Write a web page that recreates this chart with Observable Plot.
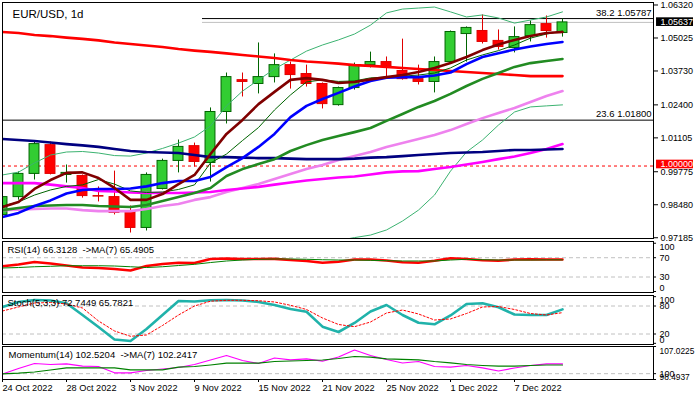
<!DOCTYPE html>
<html><head><meta charset="utf-8">
<script src="https://cdn.jsdelivr.net/npm/d3@7"></script>
<script src="https://cdn.jsdelivr.net/npm/@observablehq/plot@0.6"></script>
<style>
body{margin:0;background:#fff;}
#c{position:relative;width:697px;height:397px;overflow:hidden;background:#fff;}
#c svg{position:absolute;left:0;}
</style></head><body><div id="c"></div>
<script>
// ---------- data ----------
const dates = ["2022-10-24","2022-10-25","2022-10-26","2022-10-27","2022-10-28","2022-10-31","2022-11-01","2022-11-02","2022-11-03","2022-11-04","2022-11-07","2022-11-08","2022-11-09","2022-11-10","2022-11-11","2022-11-14","2022-11-15","2022-11-16","2022-11-17","2022-11-18","2022-11-21","2022-11-22","2022-11-23","2022-11-24","2022-11-25","2022-11-28","2022-11-29","2022-11-30","2022-12-01","2022-12-02","2022-12-05","2022-12-06","2022-12-07","2022-12-08","2022-12-09","2022-12-12"];
const open  = [0.9808,0.9878,0.9969,1.0082,0.9965,0.9961,0.9882,0.9878,0.9820,0.9757,0.9910,1.0020,1.0078,1.0012,1.0212,1.0337,1.0322,1.0349,1.0396,1.0361,1.0322,1.0239,1.0306,1.0396,1.0408,1.0373,1.0341,1.0330,1.0408,1.0518,1.0530,1.0491,1.0463,1.0510,1.0557,1.0522];
const high  = [0.9890,0.9977,1.0094,1.0094,1.0004,0.9965,0.9918,0.9980,0.9843,0.9973,1.0027,1.0102,1.0090,1.0228,1.0365,1.0365,1.0483,1.0440,1.0408,1.0396,1.0326,1.0310,1.0404,1.0447,1.0428,1.0498,1.0396,1.0428,1.0530,1.0546,1.0593,1.0534,1.0546,1.0569,1.0589,1.0577];
const low   = [0.9795,0.9866,0.9945,0.9965,0.9933,0.9874,0.9859,0.9808,0.9737,0.9745,0.9906,0.9973,0.9996,0.9937,1.0165,1.0271,1.0283,1.0326,1.0302,1.0310,1.0224,1.0235,1.0298,1.0385,1.0349,1.0337,1.0318,1.0287,1.0404,1.0408,1.0479,1.0455,1.0444,1.0487,1.0502,1.0506];
const close = [0.9878,0.9969,1.0086,0.9969,0.9973,0.9882,0.9880,0.9816,0.9757,0.9965,1.0020,1.0075,1.0016,1.0212,1.0349,1.0330,1.0349,1.0396,1.0357,1.0322,1.0243,1.0306,1.0396,1.0408,1.0392,1.0341,1.0330,1.0408,1.0526,1.0542,1.0487,1.0467,1.0506,1.0553,1.0530,1.05637];

const maRed     = [1.0526,1.0522,1.0514,1.0510,1.0504,1.0499,1.0493,1.0485,1.0479,1.0473,1.0467,1.0459,1.0453,1.0448,1.0442,1.0436,1.0430,1.0424,1.0416,1.0410,1.0406,1.0402,1.0396,1.0393,1.0389,1.0385,1.0381,1.0377,1.0373,1.0369,1.0365,1.0361,1.0357,1.0353,1.0353,1.0353];
const maNavy    = [1.0106,1.0102,1.0098,1.0092,1.0086,1.0081,1.0075,1.0067,1.0059,1.0055,1.0053,1.0051,1.0043,1.0035,1.0035,1.0033,1.0031,1.0031,1.0029,1.0027,1.0027,1.0027,1.0029,1.0033,1.0035,1.0039,1.0043,1.0047,1.0051,1.0053,1.0055,1.0059,1.0063,1.0063,1.0065,1.0067];
const maMagenta = [0.9933,0.9933,0.9933,0.9927,0.9920,0.9914,0.9902,0.9900,0.9896,0.9894,0.9894,0.9894,0.9896,0.9898,0.9906,0.9912,0.9918,0.9927,0.9935,0.9943,0.9949,0.9955,0.9959,0.9967,0.9975,0.9979,0.9980,0.9988,0.9996,1.0006,1.0016,1.0027,1.0037,1.0051,1.0067,1.0086];
const maViolet  = [0.9827,0.9829,0.9831,0.9833,0.9833,0.9827,0.9823,0.9823,0.9823,0.9831,0.9843,0.9851,0.9867,0.9878,0.9898,0.9914,0.9929,0.9949,0.9969,0.9988,1.0004,1.0024,1.0039,1.0055,1.0075,1.0090,1.0106,1.0122,1.0141,1.0165,1.0188,1.0208,1.0228,1.0251,1.0275,1.0294];
const maGreen   = [0.9827,0.9835,0.9843,0.9845,0.9847,0.9847,0.9843,0.9841,0.9839,0.9847,0.9863,0.9878,0.9894,0.9914,0.9961,0.9988,1.0008,1.0027,1.0059,1.0082,1.0102,1.0118,1.0133,1.0149,1.0177,1.0204,1.0232,1.0255,1.0283,1.0314,1.0342,1.0365,1.0389,1.0404,1.0412,1.0420];
const maMaroon  = [0.9839,0.9859,0.9910,0.9945,0.9973,0.9975,0.9953,0.9914,0.9867,0.9867,0.9890,0.9929,0.9965,1.0047,1.0126,1.0181,1.0243,1.0291,1.0338,1.0345,1.0338,1.0326,1.0330,1.0340,1.0349,1.0357,1.0369,1.0385,1.0404,1.0428,1.0455,1.0477,1.0495,1.0510,1.0522,1.0526];
const maBlue    = [0.9800,0.9816,0.9843,0.9865,0.9892,0.9906,0.9910,0.9910,0.9912,0.9920,0.9933,0.9941,0.9941,0.9957,0.9996,1.0031,1.0075,1.0126,1.0192,1.0236,1.0263,1.0287,1.0312,1.0334,1.0347,1.0349,1.0349,1.0355,1.0367,1.0400,1.0428,1.0443,1.0457,1.0469,1.0479,1.0487];
const maThin    = [0.9843,0.9859,0.9886,0.9906,0.9920,0.9926,0.9947,0.9929,0.9902,0.9896,0.9898,0.9908,0.9926,1.0012,1.0047,1.0100,1.0151,1.0220,1.0279,1.0330,1.0338,1.0332,1.0334,1.0346,1.0349,1.0353,1.0357,1.0365,1.0385,1.0416,1.0436,1.0453,1.0475,1.0502,1.0518,1.0530];
const bandUpper = [0.9965,0.9976,1.0012,1.0043,1.0055,1.0057,1.0051,1.0041,1.0039,1.0051,1.0069,1.0090,1.0114,1.0157,1.0236,1.0294,1.0338,1.0381,1.0416,1.0451,1.0475,1.0495,1.0518,1.0553,1.0601,1.0616,1.0620,1.0624,1.0605,1.0585,1.0593,1.0581,1.0561,1.0573,1.0585,1.0605];
const bandLower = [null,null,null,null,null,null,null,null,null,null,null,null,null,null,null,null,null,null,null,null,0.9690,0.9708,0.9719,0.9729,0.9749,0.9784,0.9827,0.9886,0.9980,1.0055,1.0102,1.0161,1.0212,1.0232,1.0236,1.0240];

const rsi    = [52.2,56,61,58,54,49.7,48.7,46.6,43.5,52.8,57,59.6,59,67.3,68.3,67.3,67.3,67.5,65.2,63.2,59.6,61.7,66.3,66.3,64.2,60.5,59.6,63.8,68.8,67.3,64.6,63.8,66.3,66.7,66.3,66.3128];
const rsiMa  = [48.7,49.7,51.3,52.2,53.4,53.4,53.4,52.8,51.3,49.7,51.3,53.8,56.3,60,63.2,65.2,66.7,67.3,67.3,66.7,65.8,65.2,65.2,64.6,63.8,63.2,63.2,63.2,65.2,66.7,65.8,65.2,65.2,65.2,65.5,65.4905];
const stochK = [77.9,88.6,92.8,91.8,85.8,60.7,35,8.3,5,30.7,60.7,90.7,89.6,92.2,92.8,91.8,88.6,82.1,73.6,67.8,35.7,24.3,43.6,68.2,82.1,60.7,44.2,40.8,59.7,84.3,85.8,77.2,61.8,60.7,60.7,72.7449];
const stochD = [69.3,77.9,86.4,87.5,84.3,75.7,47.9,26.5,15.1,17.9,38.2,60.7,80,90.3,92.2,92.2,91.3,88.6,81.5,72.5,54.3,40.4,35.7,45.7,65,71.4,62.9,50,52.2,63.9,77.9,78.9,72.5,63.9,60.7,65.7821];
const mom    = [99.91,101.34,102.63,102.37,102.55,101.93,101.85,100.23,100.23,100.82,101.21,101.60,102.37,103.53,104.70,103.40,102.63,104.05,103.59,103.84,103.22,104.31,106.12,104.70,103.66,102.76,103.15,101.85,101.67,102.11,101.52,100.69,101.47,102.11,102.55,102.5204];
const momMa  = [99.97,100.12,100.43,100.95,101.52,101.52,101.52,101.52,101.00,101.00,101.00,101.67,101.85,102.24,102.71,102.71,102.71,103.15,103.28,103.40,103.53,103.92,104.44,104.26,103.84,103.71,103.59,103.15,102.81,102.37,102.11,101.93,101.93,102.11,102.24,102.2417];

const priceTicks = [1.06320,1.05025,1.03730,1.02400,1.01105,0.99775,0.98480,0.97185];
const dateTickIdx = [0,4,8,12,16,20,24,28,32];
const fib382 = 1.05787, fib236 = 1.01800, parity = 1.00000;
const rsiLevels = [70,30], rsiLabels = [100,70,30,0];
const stochLevels = [80,20], stochLabels = [100,80,20,0];
const momLevel = 100, momTop = 107.0225, momBottom = 98.4937;

// ---------- layout ----------
const W = 697, ML = 2, MR = 44;
const xDomain = [0, 40.6875];
const FONT = "'Liberation Sans', Arial, sans-serif";
const rows = dates.map((d, i) => ({i, d, o: open[i], h: high[i], l: low[i], c: close[i]}));
const up = rows.filter(r => r.c >= r.o), dn = rows.filter(r => r.c < r.o);
const series = (arr) => arr.map((v, i) => ({i, v}));
const last = close[close.length - 1];
const fmtDate = d3.utcFormat("%-d %b %Y");
const hw = 0.31;
const xr = xDomain[1];

function panel(h, mt, mb, ydom, marks, top) {
  const svg = Plot.plot({
    width: W, height: h, marginLeft: ML, marginRight: MR, marginTop: mt, marginBottom: mb,
    x: {domain: xDomain, axis: null, label: null},
    y: {domain: ydom, axis: null, label: null},
    style: {fontFamily: FONT, fontSize: "9.5px", color: "#000", background: "transparent", overflow: "visible"},
    marks
  });
  svg.style.top = top + "px";
  document.getElementById("c").appendChild(svg);
}

const line = (arr, stroke, w, extra = {}) => Plot.line(series(arr), {x: "i", y: "v", stroke, strokeWidth: w, clip: true, ...extra});
const sideTicks = (vals) => Plot.ruleY(vals, {x1: xr, x2: xr + 0.19, stroke: "#000"});
const sideLabel = (vals, anchor, dy = 0, fmt = d => String(d), fs = 9) =>
  Plot.text(vals, {x: xr, y: d => d, text: fmt, dx: 6, dy, textAnchor: "start", lineAnchor: anchor, fill: "#000", fontSize: fs});

// ---------- main price panel ----------
panel(240, 2, 2, [0.97155, 1.06418], [
  Plot.ruleY([parity], {stroke: "#ff0000", strokeDasharray: "3,3"}),
  Plot.ruleY([fib236], {stroke: "#000"}),
  Plot.ruleY([last], {x1: 12.5, x2: xr, stroke: "#c0c0c0"}),
  Plot.ruleY([fib382], {x1: 12.5, x2: xr, stroke: "#000"}),
  Plot.ruleX(up, {x: "i", y1: "l", y2: "h", stroke: "#006400", clip: true}),
  Plot.ruleX(dn, {x: "i", y1: "l", y2: "h", stroke: "#e00000", clip: true}),
  Plot.rect(up, {x1: d => d.i - hw, x2: d => d.i + hw, y1: "o", y2: "c", fill: "#32cd32", stroke: "#006400", clip: true}),
  Plot.rect(dn, {x1: d => d.i - hw, x2: d => d.i + hw, y1: "o", y2: "c", fill: "#ff0000", stroke: "#e00000", clip: true}),
  line(bandUpper, "#3cb371", 1),
  line(bandLower, "#3cb371", 1),
  line(maViolet, "#ee82ee", 2.6),
  line(maMagenta, "#ff00ff", 2.6),
  line(maNavy, "#000080", 2.6),
  line(maRed, "#ff0000", 2.6),
  line(maGreen, "#228b22", 2.6),
  line(maThin, "#006400", 1),
  line(maBlue, "#0000ff", 2.6),
  line(maMaroon, "#800000", 2.6),
  Plot.frame({stroke: "#000"}),
  Plot.axisY(priceTicks, {anchor: "right", tickSize: 4, tickPadding: 3, fontSize: 9, label: null, tickFormat: d => d.toFixed(5)}),
  Plot.rect([last], {x1: xr + 0.19, x2: xr + 2.5, y1: d => d - 0.0016, y2: d => d + 0.0018, fill: "#000"}),
  Plot.text([last], {x: xr, y: d => d, text: d => d.toFixed(5), dx: 7, textAnchor: "start", fill: "#fff", fontSize: 9}),
  Plot.rect([parity], {x1: xr + 0.19, x2: xr + 2.5, y1: d => d - 0.0011, y2: d => d + 0.0023, fill: "#ff0000"}),
  Plot.text([parity], {x: xr, y: d => d, text: d => d.toFixed(5), dx: 7, dy: -1.5, textAnchor: "start", fill: "#fff", fontSize: 9}),
  Plot.text([fib382], {x: xr, y: d => d, text: d => "38.2 " + d.toFixed(5), dx: -2, dy: -6, textAnchor: "end", fill: "#000"}),
  Plot.text([fib236], {x: xr, y: d => d, text: d => "23.6 " + d.toFixed(5), dx: -2, dy: -6, textAnchor: "end", fill: "#000"}),
  Plot.text(["EUR/USD, 1d"], {frameAnchor: "top-left", text: d => d, dx: 10, dy: 7, lineAnchor: "top", textAnchor: "start", fontSize: 11.5, fill: "#000"})
], 0);

// ---------- RSI panel ----------
panel(53, 1, 1, [-2.1, 103.6], [
  Plot.ruleY(rsiLevels, {stroke: "#c0c0c0", strokeDasharray: "4,3"}),
  line(rsi, "#ff0000", 2.6),
  line(rsiMa, "#008000", 1),
  Plot.frame({stroke: "#000"}),
  sideTicks(rsiLabels),
  sideLabel([rsiLabels[0]], "top", 0),
  sideLabel(rsiLabels.slice(1, 3), "middle", 0),
  sideLabel([rsiLabels[3]], "bottom", 0),
  Plot.text([`RSI(14) ${rsi[rsi.length-1].toFixed(4)}  ->MA(7) ${rsiMa[rsiMa.length-1].toFixed(4)}`], {frameAnchor: "top-left", text: d => d, dx: 5, dy: 5, lineAnchor: "top", textAnchor: "start", fill: "#000"})
], 240);

// ---------- Stochastic panel ----------
panel(51, 1, 1, [-2.5, 102.5], [
  Plot.ruleY(stochLevels, {stroke: "#c0c0c0", strokeDasharray: "4,3"}),
  line(stochK, "#20b2aa", 2.6),
  line(stochD, "#ff0000", 1, {strokeDasharray: "2,2"}),
  Plot.frame({stroke: "#000"}),
  sideTicks(stochLabels),
  sideLabel([stochLabels[0]], "top", 0),
  sideLabel(stochLabels.slice(1, 3), "middle", 0),
  sideLabel([stochLabels[3]], "bottom", 0),
  Plot.text([`Stoch(5,3,3) ${stochK[stochK.length-1].toFixed(4)} ${stochD[stochD.length-1].toFixed(4)}`], {frameAnchor: "top-left", text: d => d, dx: 5, dy: 4, lineAnchor: "top", textAnchor: "start", fill: "#000"})
], 294);

// ---------- Momentum panel + date axis ----------
panel(52, 1, 18, [momBottom, momTop], [
  Plot.ruleY([momLevel], {stroke: "#c0c0c0", strokeDasharray: "4,3"}),
  line(mom, "#ff00ff", 1.2),
  line(momMa, "#008000", 1.2),
  Plot.frame({stroke: "#000"}),
  sideTicks([momTop, momLevel, momBottom]),
  sideLabel([momTop], "top", 2, d => d.toFixed(4), 8.4),
  sideLabel([momLevel], "middle", 0),
  sideLabel([momBottom], "bottom", 0, d => d.toFixed(4), 8.4),
  Plot.text([`Momentum(14) ${mom[mom.length-1].toFixed(4)}  ->MA(7) ${momMa[momMa.length-1].toFixed(4)}`], {frameAnchor: "top-left", text: d => d, dx: 6, dy: 5, lineAnchor: "top", textAnchor: "start", fill: "#000"}),
  Plot.axisX(dateTickIdx, {anchor: "bottom", tickSize: 3, tickPadding: 2, textAnchor: "start", label: null, fontSize: 9.2, tickFormat: i => fmtDate(new Date(dates[i]))})
], 345);
</script></body></html>
